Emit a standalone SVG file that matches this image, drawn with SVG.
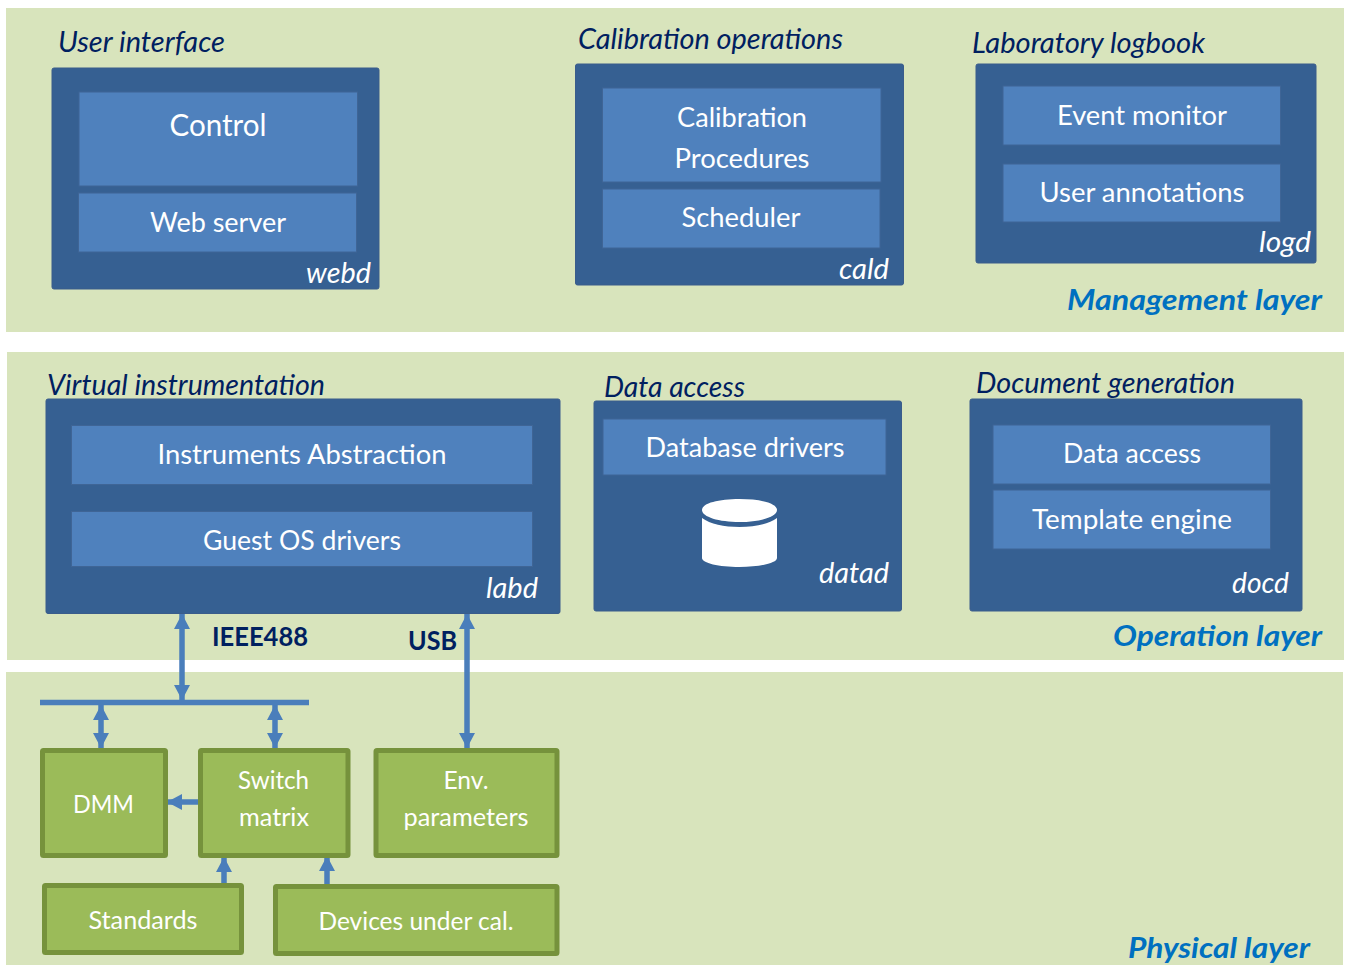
<svg xmlns="http://www.w3.org/2000/svg" width="1350" height="965" viewBox="0 0 1350 965">
<style>
text{font-family:Lato,"Open Sans","Liberation Sans",sans-serif}
.layer{fill:#d8e4bc}
.outer{fill:#366092;stroke:#3a5c8b;stroke-width:1}
.inner{fill:#4f81bd;stroke:#3f6596;stroke-width:1}
.green{fill:#9bbb59;stroke:#76923c;stroke-width:5}
.t{fill:#fff;text-anchor:middle}
.title{fill:#002060;font-style:italic;font-size:28px}
.host{fill:#fff;font-style:italic;font-size:28px;text-anchor:end}
.ln{fill:#0070c0;font-style:italic;font-weight:700;font-size:29px;text-anchor:end}
.bus{fill:#002060;font-weight:700;font-size:27px}
.conn{stroke:#4a7ebb;stroke-width:5.500;fill:none}
.head{fill:#4a7ebb}
</style>
<defs>
<marker id="a" markerUnits="userSpaceOnUse" markerWidth="16" markerHeight="16" refX="15" refY="8" orient="auto-start-reverse"><path class="head" d="M0 0L15 8L0 16z"/></marker>
</defs>
<g id="layers">
<rect class="layer" x="6" y="8" width="1338" height="324"/>
<rect class="layer" x="7" y="352" width="1337" height="308"/>
<rect class="layer" x="6" y="672" width="1337" height="293"/>
<text class="ln" x="1322" y="310" textLength="255" lengthAdjust="spacingAndGlyphs">Management layer</text>
<text class="ln" x="1322" y="646" textLength="209" lengthAdjust="spacingAndGlyphs">Operation layer</text>
<text class="ln" x="1310" y="958" textLength="182" lengthAdjust="spacingAndGlyphs">Physical layer</text>
</g>
<g id="webd">
<text class="title" x="58" y="52" textLength="167" lengthAdjust="spacingAndGlyphs">User interface</text>
<rect class="outer" x="52" y="68" width="327" height="221" rx="2"/>
<rect class="inner" x="79" y="92" width="278.500" height="94"/>
<text class="t" x="218" y="136" font-size="30" textLength="97" lengthAdjust="spacingAndGlyphs">Control</text>
<rect class="inner" x="78.500" y="193" width="278" height="59"/>
<text class="t" x="218" y="232" font-size="27" textLength="136" lengthAdjust="spacingAndGlyphs">Web server</text>
<text class="host" x="371" y="283" textLength="65" lengthAdjust="spacingAndGlyphs">webd</text>
</g>
<g id="cald">
<text class="title" x="578" y="49" textLength="265" lengthAdjust="spacingAndGlyphs">Calibration operations</text>
<rect class="outer" x="575.500" y="64" width="328" height="221" rx="2"/>
<rect class="inner" x="602.500" y="88" width="278.500" height="94"/>
<text class="t" x="742" y="127" font-size="27" textLength="130" lengthAdjust="spacingAndGlyphs">Calibration</text>
<text class="t" x="742" y="168" font-size="27" textLength="135" lengthAdjust="spacingAndGlyphs">Procedures</text>
<rect class="inner" x="602.500" y="189" width="277.500" height="59"/>
<text class="t" x="741" y="227" font-size="27" textLength="119" lengthAdjust="spacingAndGlyphs">Scheduler</text>
<text class="host" x="889" y="279" textLength="50" lengthAdjust="spacingAndGlyphs">cald</text>
</g>
<g id="logd">
<text class="title" x="972" y="53" textLength="233" lengthAdjust="spacingAndGlyphs">Laboratory logbook</text>
<rect class="outer" x="976" y="64" width="340" height="199" rx="2"/>
<rect class="inner" x="1003" y="86" width="277.500" height="59"/>
<text class="t" x="1142" y="125" font-size="27" textLength="170" lengthAdjust="spacingAndGlyphs">Event monitor</text>
<rect class="inner" x="1003" y="164" width="277.500" height="58"/>
<text class="t" x="1142" y="202" font-size="27" textLength="205" lengthAdjust="spacingAndGlyphs">User annotations</text>
<text class="host" x="1311" y="252" textLength="52" lengthAdjust="spacingAndGlyphs">logd</text>
</g>
<g id="labd">
<text class="title" x="47" y="395" textLength="278" lengthAdjust="spacingAndGlyphs">Virtual instrumentation</text>
<rect class="outer" x="46" y="399" width="514" height="214.500" rx="2"/>
<rect class="inner" x="71.500" y="425.500" width="461" height="59"/>
<text class="t" x="302" y="464" font-size="27" textLength="289" lengthAdjust="spacingAndGlyphs">Instruments Abstraction</text>
<rect class="inner" x="71.500" y="511.500" width="461" height="55"/>
<text class="t" x="302" y="550" font-size="27" textLength="198" lengthAdjust="spacingAndGlyphs">Guest OS drivers</text>
<text class="host" x="538" y="598" textLength="52" lengthAdjust="spacingAndGlyphs">labd</text>
</g>
<g id="datad">
<text class="title" x="604" y="397" textLength="141" lengthAdjust="spacingAndGlyphs">Data access</text>
<rect class="outer" x="594" y="401" width="307.500" height="210" rx="2"/>
<rect class="inner" x="603" y="419" width="283" height="56"/>
<text class="t" x="745" y="457" font-size="27" textLength="199" lengthAdjust="spacingAndGlyphs">Database drivers</text>
<path d="M702 510C702 503 719 499 739.500 499C760 499 777 503 777 510C777 517 760 522 739.500 522C719 522 702 517 702 510Z" fill="#fff"/>
<path d="M702 518C710 524 724 527 739.500 527C755 527 769 524 777 518V558C777 563 760 567 739.500 567C719 567 702 563 702 558Z" fill="#fff"/>
<text class="host" x="889" y="583" textLength="70" lengthAdjust="spacingAndGlyphs">datad</text>
</g>
<g id="docd">
<text class="title" x="976" y="393" textLength="259" lengthAdjust="spacingAndGlyphs">Document generation</text>
<rect class="outer" x="970" y="399" width="332" height="212" rx="2"/>
<rect class="inner" x="993" y="425" width="277.500" height="59"/>
<text class="t" x="1132" y="463" font-size="27" textLength="138" lengthAdjust="spacingAndGlyphs">Data access</text>
<rect class="inner" x="993" y="490" width="277.500" height="59"/>
<text class="t" x="1132" y="529" font-size="27" textLength="200" lengthAdjust="spacingAndGlyphs">Template engine</text>
<text class="host" x="1289" y="593" textLength="57" lengthAdjust="spacingAndGlyphs">docd</text>
</g>
<g id="connectors">
<path class="conn" d="M40 702.500H309" stroke-width="6"/>
<path class="conn" d="M182 614V700" marker-start="url(#a)" marker-end="url(#a)"/>
<path class="conn" d="M467 614V748" marker-start="url(#a)" marker-end="url(#a)"/>
<path class="conn" d="M101 705V748" marker-start="url(#a)" marker-end="url(#a)"/>
<path class="conn" d="M275 705V748" marker-start="url(#a)" marker-end="url(#a)"/>
<path class="conn" d="M202 802H167" marker-end="url(#a)"/>
<path class="conn" d="M224 884V857" marker-end="url(#a)"/>
<path class="conn" d="M327 885V856" marker-end="url(#a)"/>
<text class="bus" x="212" y="646" textLength="96" lengthAdjust="spacingAndGlyphs">IEEE488</text>
<text class="bus" x="408" y="650" textLength="49" lengthAdjust="spacingAndGlyphs">USB</text>
</g>
<g id="dmm">
<rect class="green" x="42.500" y="750.500" width="123" height="105" rx="1"/>
<text class="t" x="103.500" y="812.500" font-size="25" textLength="61" lengthAdjust="spacingAndGlyphs">DMM</text>
</g>
<g id="switch">
<rect class="green" x="200.500" y="750.500" width="147.500" height="105" rx="1"/>
<text class="t" x="273.500" y="789" font-size="25" textLength="71" lengthAdjust="spacingAndGlyphs">Switch</text>
<text class="t" x="274" y="826" font-size="25" textLength="70" lengthAdjust="spacingAndGlyphs">matrix</text>
</g>
<g id="env">
<rect class="green" x="376" y="750.500" width="181" height="105" rx="1"/>
<text class="t" x="466" y="789" font-size="25" textLength="45" lengthAdjust="spacingAndGlyphs">Env.</text>
<text class="t" x="466" y="826" font-size="25" textLength="125" lengthAdjust="spacingAndGlyphs">parameters</text>
</g>
<g id="standards">
<rect class="green" x="44.500" y="885.500" width="197" height="67" rx="1"/>
<text class="t" x="143" y="929" font-size="25" textLength="109" lengthAdjust="spacingAndGlyphs">Standards</text>
</g>
<g id="devices">
<rect class="green" x="275.500" y="886.500" width="281.500" height="67" rx="1"/>
<text class="t" x="416" y="930" font-size="25" textLength="195" lengthAdjust="spacingAndGlyphs">Devices under cal.</text>
</g>
</svg>
